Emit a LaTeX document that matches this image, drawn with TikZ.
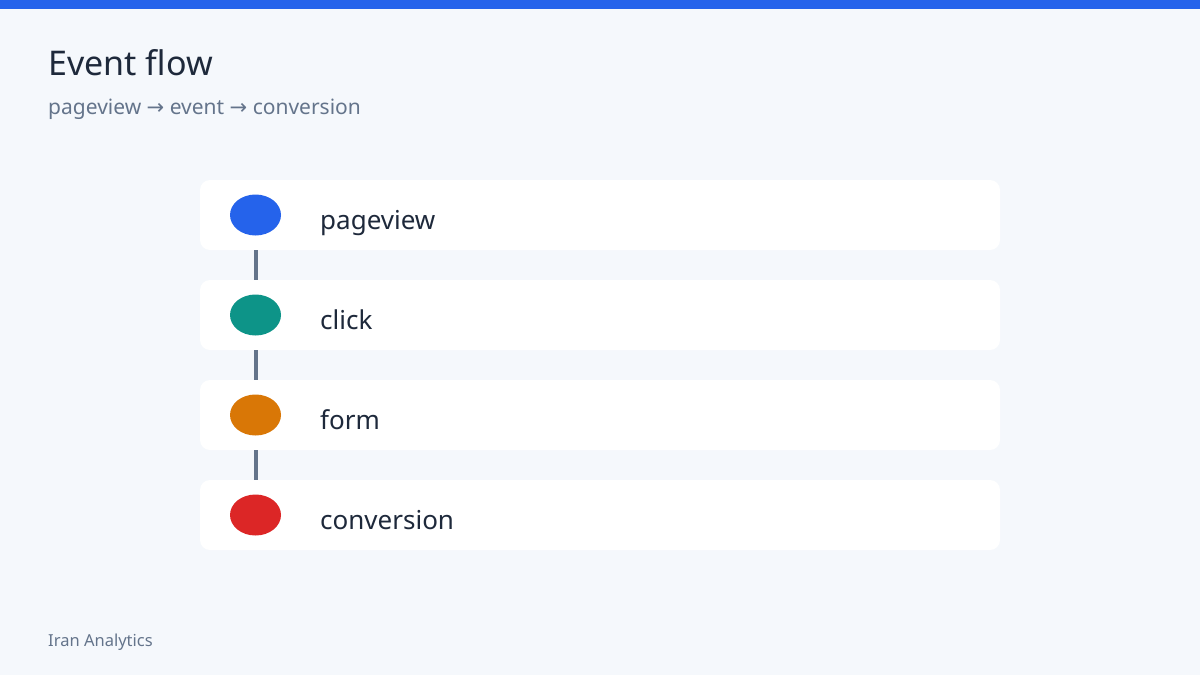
\documentclass[tikz,border=0pt]{standalone}
\usepackage{fontspec}
\setmainfont{Noto Sans}
\newfontfamily\arrowfont{DejaVu Sans}
\usetikzlibrary{shapes.geometric}

\definecolor{pagebg}{HTML}{F5F8FC}
\definecolor{topbar}{HTML}{2563EB}
\definecolor{inktitle}{HTML}{1E293B}
\definecolor{inkmuted}{HTML}{64748B}
\definecolor{dotblue}{HTML}{2563EB}
\definecolor{dotteal}{HTML}{0D9488}
\definecolor{dotorange}{HTML}{D97706}
\definecolor{dotred}{HTML}{DC2626}

\tikzset{
  card/.style={draw=none, fill=white, rounded corners=10pt,
    minimum width=800pt, minimum height=70pt, inner sep=0pt},
  dot/.style={ellipse, draw=none, fill=#1,
    minimum width=51pt, minimum height=41pt, inner sep=0pt},
  evlabel/.style={anchor=base west, inner sep=0pt, text=inktitle,
    font=\fontsize{26}{30}\selectfont},
  link/.style={draw=inkmuted, line width=4pt}
}

\begin{document}
\begin{tikzpicture}[x=1pt, y=-1pt]
    % page
    \fill [pagebg] (0, 0) rectangle (1200, 675);
    \fill [topbar] (0, 0) rectangle (1200, 9);
    \useasboundingbox (0, 0) rectangle (1200, 675);

    % heading
    \node (title) at (48, 75) [anchor=base west, inner sep=0pt, text=inktitle,
      font=\fontsize{34}{40}\selectfont] {Event flow};
    \node (subtitle) at (48, 114) [anchor=base west, inner sep=0pt, text=inkmuted,
      font=\fontsize{21}{25}\selectfont]
      {pageview {\arrowfont→} event {\arrowfont→} conversion};

    % event rows
    \node (pageviewCard)   at (600, 215) [card] {};
    \node (clickCard)      at (600, 315) [card] {};
    \node (formCard)       at (600, 415) [card] {};
    \node (conversionCard) at (600, 515) [card] {};

    \node (pageviewDot)   at (255.5, 215) [dot=dotblue] {};
    \node (clickDot)      at (255.5, 315) [dot=dotteal] {};
    \node (formDot)       at (255.5, 415) [dot=dotorange] {};
    \node (conversionDot) at (255.5, 515) [dot=dotred] {};

    \node (pageviewText)   at (320, 229) [evlabel] {pageview};
    \node (clickText)      at (320, 329) [evlabel] {click};
    \node (formText)       at (320, 429) [evlabel] {form};
    \node (conversionText) at (320, 529) [evlabel] {conversion};

    % links between rows
    \draw [link] (pageviewDot |- pageviewCard.south) -- (clickDot |- clickCard.north);
    \draw [link] (clickDot |- clickCard.south) -- (formDot |- formCard.north);
    \draw [link] (formDot |- formCard.south) -- (conversionDot |- conversionCard.north);

    % footer
    \node (footer) at (48, 646) [anchor=base west, inner sep=0pt, text=inkmuted,
      font=\fontsize{16.5}{20}\selectfont] {Iran Analytics};
\end{tikzpicture}
\end{document}
